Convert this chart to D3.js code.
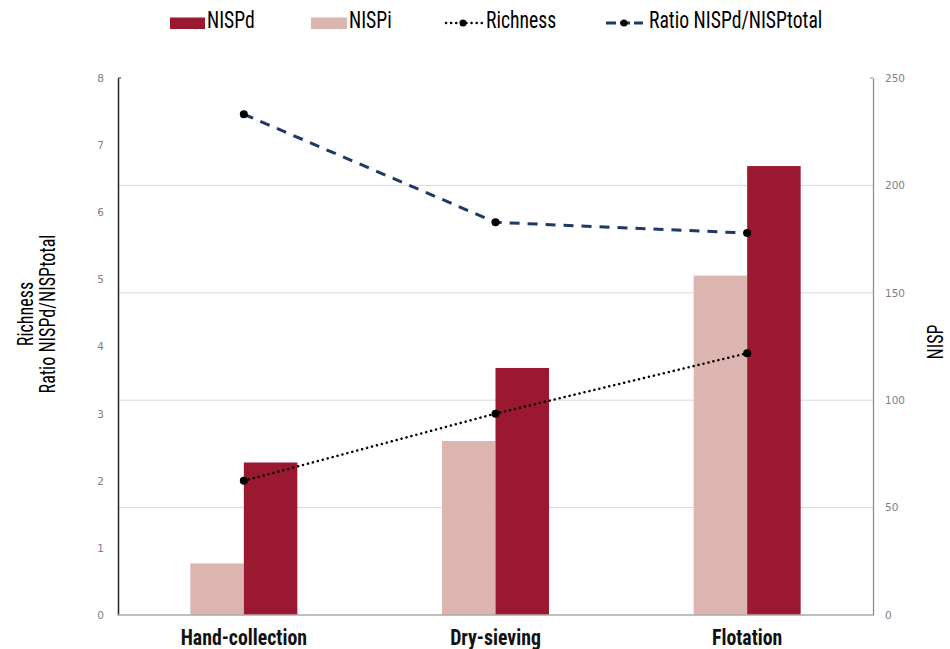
<!DOCTYPE html>
<html><head><meta charset="utf-8">
<script src="https://cdn.jsdelivr.net/npm/d3@7"></script>
<style>body{margin:0;background:#fff}svg{display:block}</style>
</head><body><svg id="c" width="950" height="649"></svg>
<script>
const categories = ["Hand-collection", "Dry-sieving", "Flotation"];
const nispd = [71, 115, 209];
const nispi = [24, 81, 158];
const richness = [2.0, 3.0, 3.9];
const ratio = [7.46, 5.85, 5.69];
const leftTicks = [0,1,2,3,4,5,6,7,8];
const rightTicks = [0,50,100,150,200,250];

const FONT = "'Roboto Condensed','Liberation Sans Narrow','Arial Narrow',sans-serif";
const svg = d3.select("#c");
const L = 118, R = 873, T = 78, B = 615;
const x = d3.scaleBand().domain(categories).range([L, R]);
const yL = d3.scaleLinear().domain([0, 8]).range([B, T]);
const yR = d3.scaleLinear().domain([0, 250]).range([B, T]);
const bw = 53.5;

// gridlines from right axis
svg.append("g").selectAll("line").data(rightTicks.slice(1, -1)).join("line")
  .attr("x1", L).attr("x2", R).attr("y1", d => yR(d)).attr("y2", d => yR(d))
  .attr("stroke", "#d9d9d9").attr("stroke-width", 1);

// bars
const cx = d => x(d) + x.bandwidth() / 2;
svg.append("g").selectAll("rect").data(categories).join("rect")
  .attr("x", d => cx(d) - bw).attr("width", bw)
  .attr("y", (d, i) => yR(nispi[i])).attr("height", (d, i) => B - yR(nispi[i]))
  .attr("fill", "#dcb5b0");
svg.append("g").selectAll("rect").data(categories).join("rect")
  .attr("x", d => cx(d)).attr("width", bw)
  .attr("y", (d, i) => yR(nispd[i])).attr("height", (d, i) => B - yR(nispd[i]))
  .attr("fill", "#9a1830");

// axes
const axL = svg.append("g").attr("transform", `translate(${L},0)`)
  .call(d3.axisLeft(yL).tickValues(leftTicks).tickSize(0).tickPadding(14));
axL.select(".domain").attr("stroke", "#222").attr("stroke-width", 1.5);
const axR = svg.append("g").attr("transform", `translate(${R},0)`)
  .call(d3.axisRight(yR).tickValues(rightTicks).tickSize(0).tickPadding(12));
axR.select(".domain").attr("stroke", "#888").attr("stroke-width", 1.2);
[axL, axR].forEach(a => a.selectAll("text").attr("fill", "#7f7f7f")
  .style("font-family", "'DejaVu Sans',sans-serif").style("font-size", "10.5px"));
svg.append("line").attr("x1", L).attr("x2", R).attr("y1", B).attr("y2", B)
  .attr("stroke", "#aaa").attr("stroke-width", 1.5);
svg.append("line").attr("x1", L).attr("x2", L + 3).attr("y1", T).attr("y2", T).attr("stroke", "#222");
svg.append("line").attr("x1", R - 3).attr("x2", R).attr("y1", T).attr("y2", T).attr("stroke", "#888");

const axB = svg.append("g").attr("transform", `translate(0,${B})`)
  .call(d3.axisBottom(x).tickSize(0).tickPadding(0));
axB.select(".domain").remove();
axB.selectAll("text").attr("fill", "#111").style("font-family", FONT)
  .style("font-size", "22px").style("font-weight", "bold")
  .attr("dy", null).attr("y", 0)
  .attr("transform", "translate(0,30) scale(0.9,1)")
  .attr("x", 0);
axB.selectAll(".tick").each(function(){});

// lines
const line = d3.line().x((d, i) => cx(categories[i]));
svg.append("path").datum(ratio).attr("d", line.y(d => yL(d)))
  .attr("fill", "none").attr("stroke", "#1f3864").attr("stroke-width", 3)
  .attr("stroke-dasharray", "10,8");
svg.append("g").selectAll("circle").data(ratio).join("circle")
  .attr("cx", (d, i) => cx(categories[i])).attr("cy", d => yL(d)).attr("r", 4).attr("fill", "#000");
svg.append("path").datum(richness).attr("d", line.y(d => yL(d)))
  .attr("fill", "none").attr("stroke", "#000").attr("stroke-width", 2.5)
  .attr("stroke-dasharray", "0.1,5").attr("stroke-linecap", "round");
svg.append("g").selectAll("circle").data(richness).join("circle")
  .attr("cx", (d, i) => cx(categories[i])).attr("cy", d => yL(d)).attr("r", 4).attr("fill", "#000");

// axis titles
const lt = svg.append("text").attr("transform", "translate(37,314) rotate(-90) scale(0.82,1)")
  .attr("text-anchor", "middle").style("font-family", FONT).style("font-size", "22px").attr("fill", "#000");
lt.append("tspan").attr("x", 0).attr("dy", "-0.2em").text("Richness");
lt.append("tspan").attr("x", 0).attr("dy", "1.0em").text("Ratio NISPd/NISPtotal");
svg.append("text").attr("transform", "translate(943,342) rotate(-90) scale(0.82,1)")
  .attr("text-anchor", "middle").style("font-family", FONT).style("font-size", "22px").attr("fill", "#000").text("NISP");

// legend
const lg = svg.append("g").style("font-family", FONT).style("font-size", "24px");
const ltext = (xp, t) => lg.append("text").attr("transform", `translate(${xp},28) scale(0.82,1)`).text(t);
lg.append("rect").attr("x", 170).attr("y", 17.5).attr("width", 35).attr("height", 11.5).attr("fill", "#9a1830");
ltext(207, "NISPd");
lg.append("rect").attr("x", 311).attr("y", 17.5).attr("width", 36).attr("height", 11.5).attr("fill", "#dcb5b0");
ltext(349, "NISPi");
lg.append("line").attr("x1", 446).attr("x2", 482).attr("y1", 23).attr("y2", 23)
  .attr("stroke", "#000").attr("stroke-width", 2.5).attr("stroke-dasharray", "0.1,5").attr("stroke-linecap", "round");
lg.append("circle").attr("cx", 463).attr("cy", 23).attr("r", 3.5);
ltext(486, "Richness");
lg.append("line").attr("x1", 606).attr("x2", 643).attr("y1", 23).attr("y2", 23)
  .attr("stroke", "#1f3864").attr("stroke-width", 3).attr("stroke-dasharray", "10,4");
lg.append("circle").attr("cx", 624).attr("cy", 23).attr("r", 3.5);
ltext(649, "Ratio NISPd/NISPtotal");
</script></body></html>
